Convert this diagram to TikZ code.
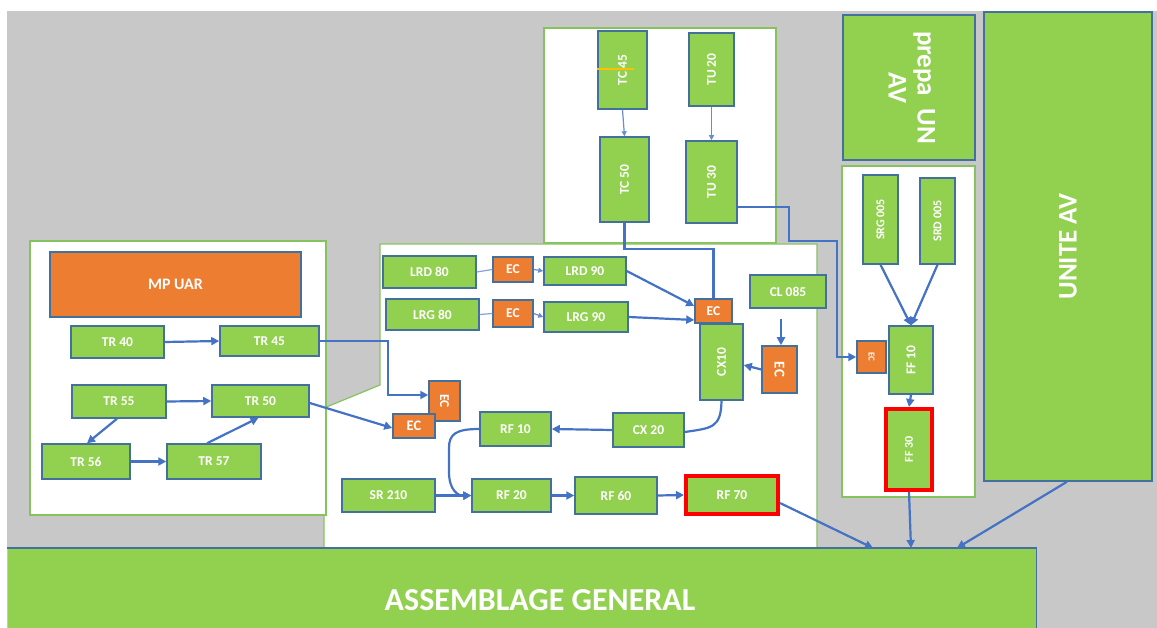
\documentclass[tikz,border=0pt]{standalone}
\usepackage{fontspec}
\setmainfont{Carlito}
\usetikzlibrary{arrows.meta}
\definecolor{bggray}{HTML}{C8C8C8}
\definecolor{gfill}{HTML}{92D050}
\definecolor{ofill}{HTML}{ED7D31}
\definecolor{bedge}{HTML}{41719C}
\definecolor{pedge}{HTML}{86C25E}
\definecolor{cblue}{HTML}{4472C4}
\definecolor{yel}{HTML}{FFC000}
\begin{document}
\begin{tikzpicture}[x=1pt,y=-1pt,
 gbox/.style={draw=bedge,fill=gfill,line width=1.5pt,text=white,font=\fontsize{13.5}{15}\selectfont\bfseries,inner sep=0pt},
 obox/.style={gbox,fill=ofill},
 redbox/.style={gbox,draw=red,line width=4pt},
 panel/.style={draw=pedge,fill=white,line width=1.2pt},
 conn/.style={draw=cblue,line width=2.2pt,-{Triangle[length=8pt,width=8pt]}},
 connl/.style={draw=cblue,line width=2.2pt},
 thinarr/.style={draw=cblue!80,line width=1.2pt,-{Triangle[length=5pt,width=5pt]}},
 thinline/.style={draw=cblue!65,line width=1.2pt},
 sz/.style 2 args={minimum width=#1pt,minimum height=#2pt}
]
\useasboundingbox (0,0) rectangle (1157,628);
\fill[white] (0,0) rectangle (1157,628);
\fill[bggray] (7,11) rectangle (1157,628);

% panels
\draw[panel] (544,28) rectangle (776,243);
\draw[panel] (380,244) -- (817,244) -- (817,548) -- (324,548) -- (324,408) -- (380,385) -- cycle;
\draw[panel] (30,241) rectangle (326,515);
\draw[panel] (842,166) rectangle (975,497);

% big boxes
\node[gbox,sz={132}{145},font=\fontsize{27}{29}\selectfont\bfseries] (prepa) at (909,87.5)
  {\rotatebox{-90}{\begin{tabular}{@{}c@{}}prepa\ \ UN\\AV\end{tabular}}};
\node[gbox,sz={168}{469},font=\fontsize{27}{30}\selectfont\bfseries] (unite) at (1068,246.5)
  {\rotatebox{90}{UNITE AV}};
\node[gbox,draw=none,sz={1028}{80},anchor=north west] (ag) at (7,548) {};
\draw[draw=bedge,line width=1.5pt] (ag.north west) -- (ag.north east) -- (ag.south east);
\node[text=white,font=\fontsize{32}{36}\selectfont\bfseries] (agt) at (540,600) {ASSEMBLAGE GENERAL};
\coordinate (ag1) at (873,548);
\coordinate (ag2) at (911,548);
\coordinate (ag3) at (957,548);

% left panel
\node[obox,sz={251}{65},font=\fontsize{16}{18}\selectfont\bfseries] (mpuar) at (175.5,284.5) {MP UAR};
\node[gbox,sz={93}{32}] (tr40) at (117.5,342) {TR 40};
\node[gbox,sz={99}{30}] (tr45) at (269.5,341) {TR 45};
\node[gbox,sz={94}{33}] (tr55) at (119,401.5) {TR 55};
\node[gbox,sz={97}{32}] (tr50) at (260.5,401) {TR 50};
\node[gbox,sz={88}{35}] (tr56) at (86,461.5) {TR 56};
\node[gbox,sz={94}{35}] (tr57) at (214,461.5) {TR 57};

% middle panel
\node[gbox,sz={93}{32}] (lrd80) at (429.5,272) {LRD 80};
\node[obox,sz={40}{25}] (ec1) at (513,269.5) {EC};
\node[gbox,sz={82}{28}] (lrd90) at (585,271) {LRD 90};
\node[gbox,sz={93}{31}] (lrg80) at (432.5,314.5) {LRG 80};
\node[obox,sz={40}{27}] (ec2) at (513,313.5) {EC};
\node[gbox,sz={84}{30}] (lrg90) at (586,317) {LRG 90};
\node[gbox,sz={43}{76}] (cx10) at (721.5,362) {\rotatebox{90}{CX10}};
\node[obox,sz={37}{24}] (ectop) at (713.5,311) {EC};
\node[gbox,sz={76}{33}] (cl085) at (788,291.5) {CL 085};
\node[obox,sz={35}{47},font=\fontsize{15}{17}\selectfont\bfseries] (ecright) at (779.5,369.5) {\rotatebox{-90}{EC}};
\node[gbox,sz={71}{34}] (cx20) at (648.5,430) {CX 20};
\node[gbox,sz={71}{34}] (rf10) at (515.5,429) {RF 10};
\node[gbox,sz={93}{33}] (sr210) at (388.5,495.5) {SR 210};
\node[gbox,sz={79}{33}] (rf20) at (511.5,495.5) {RF 20};
\node[gbox,sz={82}{37}] (rf60) at (616,495.5) {RF 60};
\node[redbox,sz={92}{38}] (rf70) at (732,495) {RF 70};
\node[obox,sz={31}{40}] (ecup) at (444.5,401) {\rotatebox{-90}{EC}};
\node[obox,sz={42}{24},font=\fontsize{14.5}{16}\selectfont\bfseries] (eclow) at (414,426) {EC};

% top panel
\node[gbox,sz={49}{78}] (tc45) at (622.5,70) {\rotatebox{90}{TC 45}};
\draw[yel,line width=2pt] (tc45.west) ++(0,-1) -- ++(37,0);
\node[gbox,sz={45}{73}] (tu20) at (711.5,69.5) {\rotatebox{90}{TU 20}};
\node[gbox,sz={49}{85}] (tc50) at (624.5,179.5) {\rotatebox{90}{TC 50}};
\node[gbox,sz={51}{82}] (tu30) at (711.5,182) {\rotatebox{90}{TU 30}};

% right panel
\node[gbox,sz={35}{89},font=\fontsize{12}{14}\selectfont\bfseries] (srg) at (880.5,219.5) {\rotatebox{90}{SRG 005}};
\node[gbox,sz={35}{86},font=\fontsize{12}{14}\selectfont\bfseries] (srd) at (937.5,221) {\rotatebox{90}{SRD 005}};
\node[gbox,sz={44}{68}] (ff10) at (911,360) {\rotatebox{90}{FF 10}};
\node[obox,sz={29}{32},font=\fontsize{9}{10}\selectfont\bfseries] (ecsmall) at (871.5,357) {\rotatebox{-90}{EC}};
\node[redbox,sz={46}{81},font=\fontsize{12}{14}\selectfont\bfseries] (ff30) at (909,449.5) {\rotatebox{90}{FF 30}};

% connectors left
\draw[conn] (tr40.east) -- (tr45.west);
\draw[conn] (tr55.east) -- (tr50.west);
\draw[conn] ([xshift=-2pt]tr55.south) -- ([xshift=1pt]tr56.north);
\draw[conn] (tr56.east) -- (tr57.west);
\draw[conn] ([xshift=-7pt]tr57.north) -- ([xshift=-2pt]tr50.south);
\draw[conn] (tr45.east) -- ++(68,0) |- ([yshift=6pt]ecup.west);
\draw[conn] ([yshift=-2pt]tr50.east) -- ([yshift=-2pt]eclow.west);

% connectors middle
\draw[thinline] (lrd80.east) -- (ec1.west);
\draw[thinarr] (ec1.east) -- (lrd90.west);
\draw[thinline] (lrg80.east) -- (ec2.west);
\draw[thinarr] (ec2.east) -- (lrg90.west);
\draw[conn] (lrd90.east) -- ([yshift=5pt]ectop.west);
\draw[conn] (lrg90.east) -- ([yshift=-9pt]ectop.west);
\draw[connl] (tc50.south) -- ++(0,26) -| (ectop.north);
\draw[conn] ([xshift=-7pt,yshift=-10pt]cl085.south) -- ([xshift=1.5pt]ecright.north);
\draw[conn] (ecright.west) -- ([yshift=-3pt]cx10.east);
\draw[connl] (cx10.south) .. controls (721,428) and (712,428) .. ([yshift=-2pt]cx20.east);
\draw[conn] (cx20.west) -- (rf10.east);
\draw[conn] (rf10.west) .. controls (456,429) and (449,434) .. (449,448) -- (449,472) .. controls (449,490) and (458,496) .. (rf20.west);
\draw[conn] (sr210.east) -- (rf20.west);
\draw[conn] (rf20.east) -- (rf60.west);
\draw[conn] (rf60.east) -- (rf70.west);
\draw[conn] ([yshift=-8pt]rf70.east) -- (ag1);

% connectors top
\draw[thinarr] (tc45.south) -- (tc50.north);
\draw[thinarr] (tu20.south) -- (tu30.north);
\draw[conn] ([yshift=-25pt]tu30.east) -- ++(51,0) |- (837,241) |- (ecsmall.west);

% connectors right
\draw[conn] (srg.south) -- (ff10.north);
\draw[conn] (srd.south) -- (ff10.north);
\draw[conn] (ff10.south) -- (ff30.north);
\draw[conn] (ff30.south) -- (ag2);
\draw[conn] ([xshift=-1pt]unite.south) -- (ag3);
\end{tikzpicture}
\end{document}
